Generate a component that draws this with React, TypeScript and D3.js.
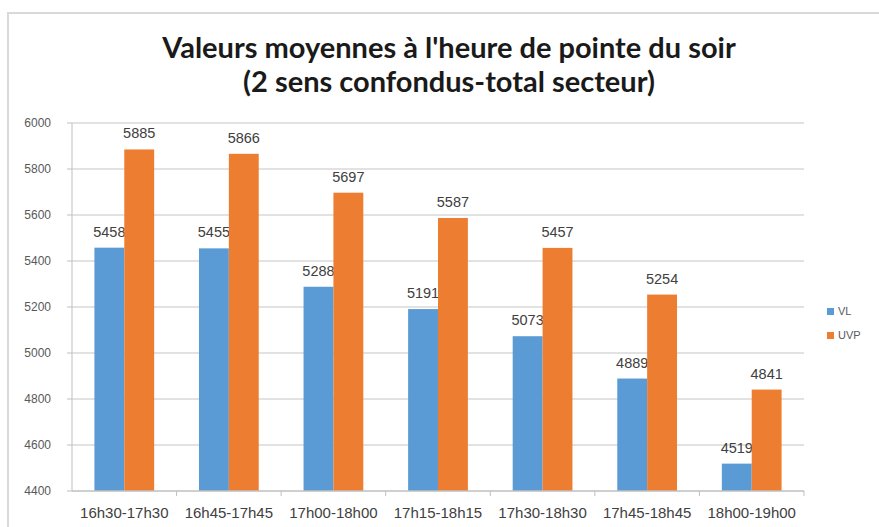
import React from "react";
import * as d3 from "d3";

const categories = ["16h30-17h30", "16h45-17h45", "17h00-18h00", "17h15-18h15", "17h30-18h30", "17h45-18h45", "18h00-19h00"];
const vlValues = [5458, 5455, 5288, 5191, 5073, 4889, 4519];
const uvpValues = [5885, 5866, 5697, 5587, 5457, 5254, 4841];
const seriesNames = ["VL", "UVP"];
const seriesColors = ["#5b9bd5", "#ed7d31"];
const yTicks = [4400, 4600, 4800, 5000, 5200, 5400, 5600, 5800, 6000];
const titleLines = ["Valeurs moyennes à l'heure de pointe du soir", "(2 sens confondus-total secteur)"];

export default function App() {
  const W = 879, H = 527;
  const left = 72, right = 804, top = 123, bottom = 491;
  const x = d3.scaleBand<string>().domain(categories).range([left, right]).paddingInner(0).paddingOuter(0);
  const y = d3.scaleLinear().domain([4400, 6000]).range([bottom, top]);
  const groupW = x.bandwidth() / 1.75;
  const xs = d3.scaleBand<number>().domain([0, 1]).range([0, groupW]);
  const series = [vlValues, uvpValues];
  const font = "'Liberation Sans', Arial, sans-serif";
  return (
    <svg width={W} height={H} style={{ position: "absolute", left: 0, top: 0, display: "block", background: "#fff" }}>
      <rect x={8} y={13} width={900} height={600} fill="#fff" stroke="#d9d9d9" strokeWidth={2} />
      {titleLines.map((t, i) => (
        <text key={i} x={449} y={58 + i * 34} textAnchor="middle" fontFamily="Lato, 'Open Sans', sans-serif" fontWeight="bold" fontSize={29} fill="#1a1a1a">{t}</text>
      ))}
      {yTicks.map((v) => (
        <g key={v}>
          {v !== 4400 && <line x1={left} x2={right} y1={y(v)} y2={y(v)} stroke="#d9d9d9" strokeWidth={1.5} />}
          <line x1={left - 5} x2={left} y1={y(v)} y2={y(v)} stroke="#bfbfbf" strokeWidth={1} />
          <text x={51} y={y(v) + 4} textAnchor="end" fontFamily={font} fontSize={12} fill="#595959">{v}</text>
        </g>
      ))}
      {series.map((vals, si) =>
        vals.map((v, ci) => {
          const cx = (x(categories[ci]) as number) + (x.bandwidth() - groupW) / 2 + (xs(si) as number);
          return (
            <g key={si + "-" + ci}>
              <rect x={cx} y={y(v)} width={xs.bandwidth()} height={bottom - y(v)} fill={seriesColors[si]} />
              <text x={cx + xs.bandwidth() / 2} y={y(v) - 11} textAnchor="middle" fontFamily={font} fontSize={14.5} fill="#404040">{v}</text>
            </g>
          );
        })
      )}
      <line x1={left} x2={left} y1={top} y2={bottom} stroke="#bfbfbf" strokeWidth={1} />
      <line x1={left} x2={right} y1={bottom} y2={bottom} stroke="#bfbfbf" strokeWidth={1.5} />
      {categories.map((c, i) => (
        <g key={c}>
          <line x1={(x(c) as number) + x.bandwidth()} x2={(x(c) as number) + x.bandwidth()} y1={bottom} y2={bottom + 5} stroke="#bfbfbf" />
          <text x={(x(c) as number) + x.bandwidth() / 2} y={518} textAnchor="middle" fontFamily={font} fontSize={15} fill="#404040">{c}</text>
        </g>
      ))}
      {seriesNames.map((n, i) => (
        <g key={n}>
          <rect x={827} y={308 + i * 24} width={7} height={7} fill={seriesColors[i]} />
          <text x={838} y={315 + i * 24} fontFamily={font} fontSize={11} fill="#595959">{n}</text>
        </g>
      ))}
    </svg>
  );
}
